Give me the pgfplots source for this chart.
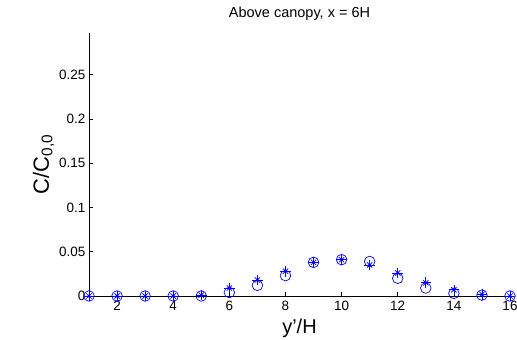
\documentclass[border=0pt]{standalone}
\usepackage{fontspec}
\setmainfont{Liberation Sans}
\usepackage{pgfplots}
\pgfplotsset{compat=1.18}
\pgfplotstableread{
x c s
1 0 0
2 0 0
3 0 0
4 0 0
5 0 0.001
6 0.004 0.009
7 0.012 0.018
8 0.023 0.028
9 0.038 0.038
10 0.041 0.041
11 0.039 0.035
12 0.020 0.026
13 0.009 0.015
14 0.003 0.007
15 0.001 0.002
16 0 0
}\data
\begin{document}
\begin{tikzpicture}
\path[use as bounding box] (-89bp,-44bp) rectangle (428bp,296bp);
\begin{axis}[
  scale only axis,
  width=421bp, height=263bp,
  at={(0,0)}, anchor=south west,
  xmin=1, xmax=16, ymin=0, ymax=0.297,
  axis x line*=bottom, axis y line*=left,
  axis line style={line width=0.6pt, -},
  xtick={2,4,...,16},
  ytick={0,0.05,0.1,0.15,0.2,0.25},
  yticklabels={0,0.05,0.1,0.15,0.2,0.25},
  tick align=inside, major tick length=4bp,
  tick style={black, line width=0.5pt},
  tick label style={font=\fontsize{13.5bp}{15bp}\selectfont},
  /pgf/number format/assume math mode=true,
  xticklabel style={yshift=-2bp},
  title={Above canopy, x = 6H},
  title style={font=\fontsize{14.5bp}{16bp}\selectfont, yshift=3bp},
  xlabel={y’/H},
  xlabel style={font=\fontsize{20bp}{22bp}\selectfont, yshift=-1bp},
  ylabel={C/C\textsubscript{0,0}},
  ylabel style={font=\fontsize{22bp}{24bp}\selectfont, yshift=-2bp},
  clip=false,
]
\addplot[only marks, mark=o, blue, mark size=5.3bp, mark options={line width=0.7pt}] table[x=x,y=c] {\data};
\addplot[only marks, mark=+, blue, mark size=5.3bp, mark options={line width=0.7pt}] table[x=x,y=s] {\data};
\addplot[only marks, mark=x, blue, mark size=3.75bp, mark options={line width=0.7pt}] table[x=x,y=s] {\data};
\addplot[only marks, mark=*, blue, mark size=1.3bp] table[x=x,y=s] {\data};
\end{axis}
\end{tikzpicture}
\end{document}
